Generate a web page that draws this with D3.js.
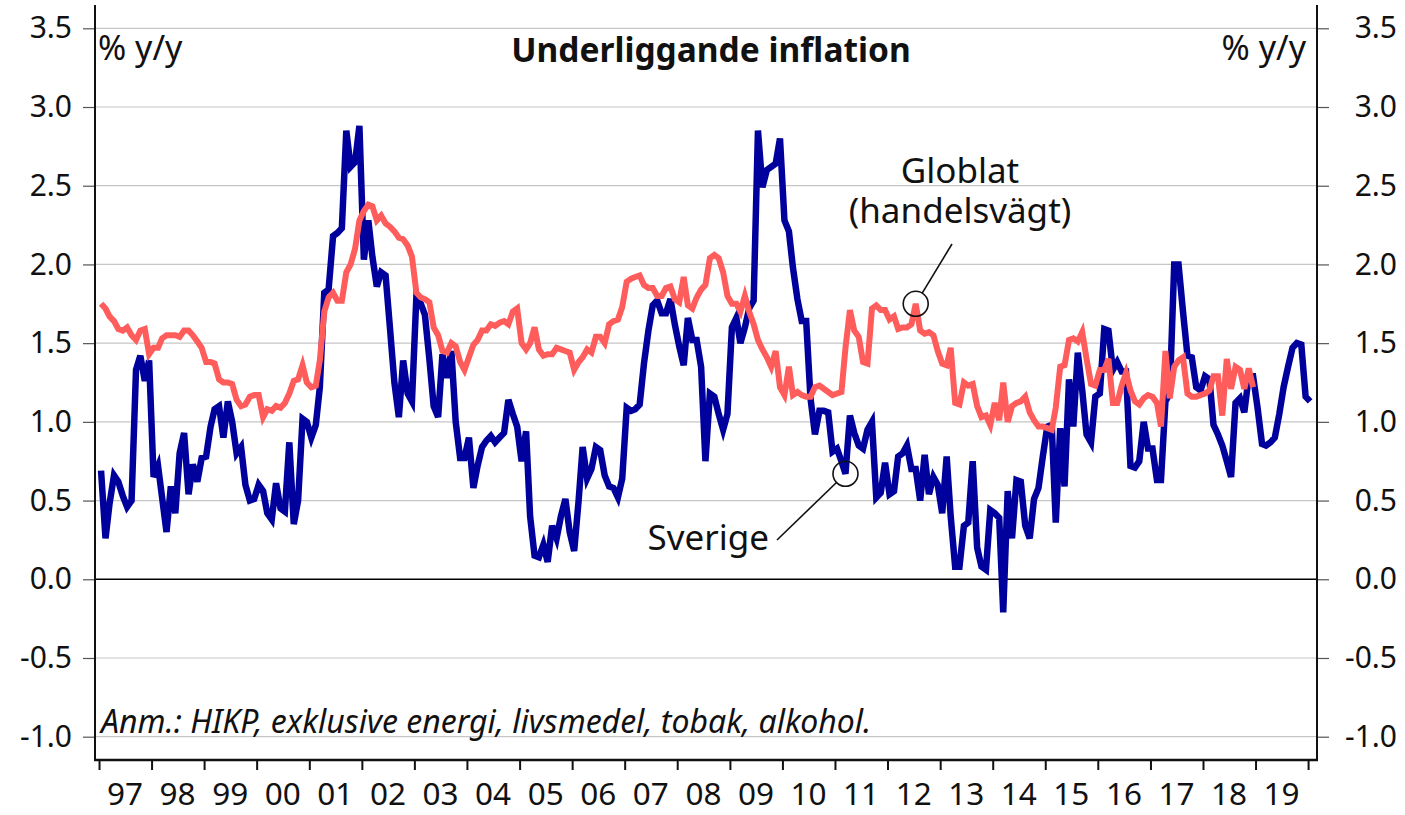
<!DOCTYPE html>
<html>
<head>
<meta charset="utf-8">
<script src="https://cdn.jsdelivr.net/npm/d3@7"></script>
<style>
  body { margin: 0; background: #fff; }
  text { font-family: "Noto Sans", sans-serif; fill: #111; }
</style>
</head>
<body>
<div id="chart"></div>
<script>
// monthly values, Jan 1997 onwards (% y/y)
var sverige = [
  0.69, 0.26, 0.48, 0.66, 0.62, 0.53, 0.46, 0.50, 1.33, 1.42, 1.26, 1.39,
  0.65, 0.72, 0.52, 0.30, 0.59, 0.42, 0.80, 0.93, 0.54, 0.73, 0.62, 0.77,
  0.78, 0.97, 1.08, 1.10, 0.90, 1.13, 1.00, 0.80, 0.84, 0.60, 0.50, 0.51,
  0.60, 0.56, 0.42, 0.38, 0.61, 0.45, 0.43, 0.87, 0.35, 0.50, 1.02, 1.00,
  0.90, 0.98, 1.22, 1.82, 1.84, 2.18, 2.20, 2.23, 2.85, 2.62, 2.65, 2.88,
  2.03, 2.28, 2.05, 1.86, 1.95, 1.93, 1.60, 1.25, 1.03, 1.39, 1.18, 1.13,
  1.80, 1.75, 1.68, 1.40, 1.10, 1.03, 1.43, 1.28, 1.45, 1.00, 0.77, 0.77,
  0.90, 0.58, 0.72, 0.84, 0.88, 0.91, 0.87, 0.90, 0.93, 1.14, 1.05, 0.97,
  0.75, 0.94, 0.40, 0.15, 0.14, 0.22, 0.11, 0.34, 0.26, 0.40, 0.51, 0.30,
  0.18, 0.50, 0.84, 0.64, 0.70, 0.84, 0.82, 0.66, 0.59, 0.58, 0.52, 0.64,
  1.09, 1.07, 1.08, 1.11, 1.37, 1.58, 1.74, 1.77, 1.69, 1.69, 1.78, 1.62,
  1.48, 1.36, 1.66, 1.52, 1.52, 1.35, 0.75, 1.18, 1.16, 1.05, 0.95, 1.05,
  1.60, 1.66, 1.50, 1.60, 1.72, 1.77, 2.85, 2.49, 2.60, 2.62, 2.64, 2.80,
  2.28, 2.21, 1.98, 1.78, 1.64, 1.64, 1.15, 0.92, 1.07, 1.07, 1.06, 0.81,
  0.83, 0.75, 0.67, 1.04, 0.93, 0.85, 0.83, 0.95, 1.00, 0.52, 0.55, 0.74,
  0.54, 0.56, 0.78, 0.80, 0.85, 0.70, 0.70, 0.50, 0.79, 0.54, 0.65, 0.60,
  0.42, 0.78, 0.40, 0.08, 0.08, 0.34, 0.36, 0.75, 0.20, 0.08, 0.06, 0.44,
  0.42, 0.39, -0.21, 0.56, 0.26, 0.63, 0.62, 0.34, 0.26, 0.51, 0.58, 0.78,
  0.97, 0.98, 0.36, 0.96, 0.59, 1.27, 0.97, 1.44, 1.20, 0.92, 0.87, 1.16,
  1.18, 1.59, 1.58, 1.33, 1.38, 1.32, 1.32, 0.72, 0.71, 0.75, 1.00, 0.83,
  0.83, 0.63, 0.63, 1.13, 1.18, 2.00, 2.00, 1.70, 1.42, 1.41, 1.22, 1.20,
  1.29, 1.27, 0.98, 0.92, 0.85, 0.75, 0.65, 1.12, 1.15, 1.06, 1.29, 1.29,
  1.09, 0.86, 0.85, 0.87, 0.90, 1.05, 1.22, 1.35, 1.47, 1.50, 1.49, 1.16,
  1.13
];

var globlat = [
  1.75, 1.72, 1.67, 1.64, 1.59, 1.58, 1.60, 1.55, 1.52, 1.58, 1.59, 1.43,
  1.47, 1.47, 1.53, 1.55, 1.55, 1.55, 1.54, 1.58, 1.58, 1.55, 1.51, 1.47,
  1.38, 1.38, 1.37, 1.27, 1.25, 1.25, 1.24, 1.14, 1.10, 1.11, 1.16, 1.17,
  1.17, 1.03, 1.08, 1.07, 1.10, 1.09, 1.12, 1.18, 1.26, 1.27, 1.36, 1.25,
  1.22, 1.23, 1.39, 1.70, 1.79, 1.82, 1.77, 1.77, 1.95, 2.00, 2.10, 2.28,
  2.34, 2.38, 2.37, 2.28, 2.31, 2.26, 2.24, 2.21, 2.17, 2.16, 2.12, 2.05,
  1.82, 1.79, 1.78, 1.76, 1.60, 1.55, 1.45, 1.44, 1.50, 1.48, 1.38, 1.33,
  1.41, 1.49, 1.52, 1.58, 1.58, 1.62, 1.61, 1.63, 1.64, 1.62, 1.70, 1.72,
  1.50, 1.46, 1.50, 1.60, 1.46, 1.42, 1.43, 1.43, 1.47, 1.46, 1.45, 1.44,
  1.33, 1.38, 1.41, 1.46, 1.44, 1.54, 1.54, 1.50, 1.62, 1.64, 1.65, 1.73,
  1.89, 1.91, 1.92, 1.93, 1.87, 1.85, 1.85, 1.80, 1.80, 1.85, 1.86, 1.78,
  1.76, 1.92, 1.74, 1.72, 1.79, 1.84, 1.87, 2.04, 2.06, 2.04, 1.95, 1.80,
  1.75, 1.75, 1.70, 1.80, 1.70, 1.62, 1.52, 1.46, 1.41, 1.35, 1.45, 1.22,
  1.17, 1.35, 1.17, 1.19, 1.17, 1.16, 1.16, 1.22, 1.23, 1.21, 1.19, 1.17,
  1.18, 1.19, 1.47, 1.71, 1.58, 1.54, 1.38, 1.37, 1.72, 1.74, 1.71, 1.71,
  1.65, 1.67, 1.59, 1.60, 1.60, 1.62, 1.75, 1.58, 1.56, 1.57, 1.55, 1.45,
  1.37, 1.36, 1.47, 1.12, 1.11, 1.25, 1.23, 1.24, 1.10, 1.03, 1.04, 0.98,
  1.12, 1.01, 1.25, 1.00, 1.10, 1.12, 1.13, 1.16, 1.06, 1.01, 0.97, 0.97,
  0.96, 0.95, 1.09, 1.35, 1.36, 1.52, 1.53, 1.51, 1.57, 1.40, 1.24, 1.23,
  1.33, 1.33, 1.40, 1.12, 1.12, 1.23, 1.31, 1.20, 1.13, 1.11, 1.15, 1.17,
  1.16, 1.12, 0.97, 1.45, 1.15, 1.35, 1.39, 1.41, 1.18, 1.16, 1.16, 1.17,
  1.18, 1.20, 1.29, 1.29, 1.04, 1.40, 1.21, 1.35, 1.33, 1.21, 1.34, 1.22
];

var yTicks = [-1.0, -0.5, 0.0, 0.5, 1.0, 1.5, 2.0, 2.5, 3.0, 3.5];
var yearLabels = ["97","98","99","00","01","02","03","04","05","06","07","08",
                  "09","10","11","12","13","14","15","16","17","18","19"];
var startYear = 1997;
var title = "Underliggande inflation";
var unit = "% y/y";
var note = "Anm.: HIKP, exklusive energi, livsmedel, tobak, alkohol.";
// labelled points: month index in each series
var globlatMark = 186, sverigeMark = 170;

var width = 1405, height = 815;
var margin = {top: 5, right: 88, bottom: 55, left: 95};
var x0 = margin.left, x1 = width - margin.right, yTop = margin.top, yBot = height - margin.bottom;

var svg = d3.select("#chart")
  .append("svg")
    .attr("width", width)
    .attr("height", height);

function monthDate(i) { return new Date(startYear, i, 15); }

var x = d3.scaleTime()
    .domain([new Date(1996, 11, 4), new Date(2020, 2, 3)])
    .range([x0, x1]);

var y = d3.scaleLinear()
    .domain([-1.148, 3.648])
    .range([yBot, yTop]);

// grid lines
svg.append("g")
  .selectAll("line")
  .data(yTicks)
  .enter()
  .append("line")
    .attr("x1", x0).attr("x2", x1)
    .attr("y1", function(d){ return y(d) })
    .attr("y2", function(d){ return y(d) })
    .attr("stroke", function(d){ return d === 0 ? "#000" : "#c6c6c6" })
    .attr("stroke-width", function(d){ return d === 0 ? 1.5 : 1.2 });

// left and right axes
var fmt = function(d){ return d.toFixed(1) };
var gl = svg.append("g")
  .attr("transform", "translate(" + x0 + ",0)")
  .call(d3.axisLeft(y).tickValues(yTicks).tickFormat(fmt).tickSize(12).tickPadding(11));
var gr = svg.append("g")
  .attr("transform", "translate(" + x1 + ",0)")
  .call(d3.axisRight(y).tickValues(yTicks).tickFormat(fmt).tickSize(12).tickPadding(11));
gr.selectAll("text").attr("text-anchor", "end").attr("x", 80);

[gl, gr].forEach(function(g){
  g.select(".domain").remove();
  g.selectAll(".tick line").attr("stroke", "#555").attr("stroke-width", 1.2);
  g.selectAll("text")
    .attr("font-family", "Noto Sans")
    .attr("font-size", 30)
    .attr("fill", "#111");
});

// x axis: ticks at year starts, labels mid-year
var years = d3.range(startYear, startYear + yearLabels.length + 1);
svg.append("g")
  .attr("transform", "translate(0," + yBot + ")")
  .call(d3.axisBottom(x)
    .tickValues(years.map(function(yr){ return new Date(yr, 0, 1) }))
    .tickSize(10)
    .tickFormat(""))
  .call(function(g){
    g.select(".domain").remove();
    g.selectAll(".tick line").attr("stroke", "#111").attr("stroke-width", 2);
  });

svg.append("g")
  .selectAll("text")
  .data(yearLabels)
  .enter()
  .append("text")
    .attr("x", function(d, i){ return x(new Date(startYear + i, 6, 1)) })
    .attr("y", 805)
    .attr("text-anchor", "middle")
    .attr("font-size", 31.5)
    .text(function(d){ return d });

// frame lines
svg.append("line").attr("x1", x0).attr("x2", x0).attr("y1", yTop).attr("y2", yBot + 1)
  .attr("stroke", "#111").attr("stroke-width", 2);
svg.append("line").attr("x1", x1).attr("x2", x1).attr("y1", yTop).attr("y2", yBot + 1)
  .attr("stroke", "#111").attr("stroke-width", 2);
svg.append("line").attr("x1", x0 - 1).attr("x2", x1 + 1).attr("y1", yBot).attr("y2", yBot)
  .attr("stroke", "#111").attr("stroke-width", 2.5);

// series
var line = d3.line()
  .x(function(d, i){ return x(monthDate(i)) })
  .y(function(d){ return y(d) });

svg.append("path")
  .datum(sverige)
  .attr("d", line)
  .attr("fill", "none")
  .attr("stroke", "#00009c")
  .attr("stroke-width", 6.5);

svg.append("path")
  .datum(globlat)
  .attr("d", line)
  .attr("fill", "none")
  .attr("stroke", "#ff5c5c")
  .attr("stroke-width", 6);

// texts
svg.append("text")
  .attr("x", 711).attr("y", 62)
  .attr("text-anchor", "middle")
  .attr("font-size", 33.5)
  .attr("font-weight", "bold")
  .text(title);

svg.append("text")
  .attr("x", x0 + 3).attr("y", 60)
  .attr("font-size", 34)
  .text(unit);
svg.append("text")
  .attr("x", x1 - 11).attr("y", 60)
  .attr("text-anchor", "end")
  .attr("font-size", 34)
  .text(unit);

svg.append("text")
  .attr("x", x0 + 6).attr("y", 733)
  .attr("font-size", 32)
  .attr("font-style", "italic")
  .text(note);

// callouts
function callout(series, idx, lx, ly) {
  var cx = x(monthDate(idx)), cy = y(series[idx]), r = 12.5;
  var dx = lx - cx, dy = ly - cy, len = Math.sqrt(dx*dx + dy*dy);
  svg.append("circle")
    .attr("cx", cx).attr("cy", cy).attr("r", r)
    .attr("fill", "none").attr("stroke", "#111").attr("stroke-width", 1.6);
  svg.append("line")
    .attr("x1", lx).attr("y1", ly)
    .attr("x2", cx + dx / len * r).attr("y2", cy + dy / len * r)
    .attr("stroke", "#111").attr("stroke-width", 1.6);
}
callout(globlat, globlatMark, 952, 244);
callout(sverige, sverigeMark, 777, 540);

svg.append("text").attr("x", 960).attr("y", 183)
  .attr("text-anchor", "middle").attr("font-size", 35).text("Globlat");
svg.append("text").attr("x", 960).attr("y", 223)
  .attr("text-anchor", "middle").attr("font-size", 35).text("(handelsvägt)");
svg.append("text").attr("x", 769).attr("y", 550)
  .attr("text-anchor", "end").attr("font-size", 35).text("Sverige");
</script>
</body>
</html>
